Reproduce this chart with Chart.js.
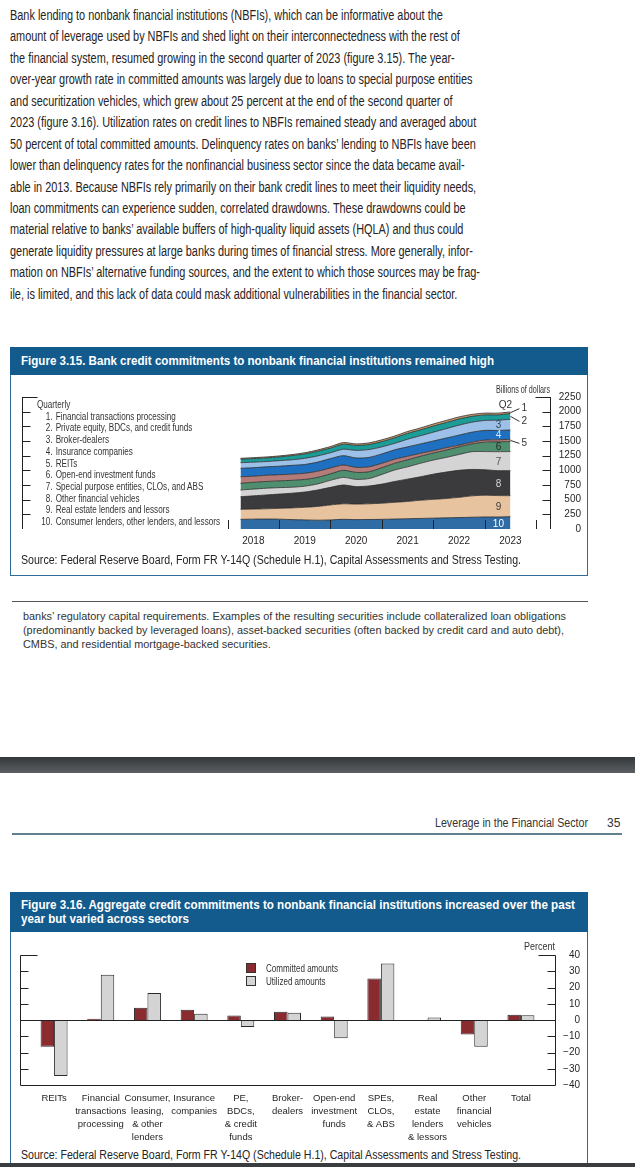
<!DOCTYPE html>
<html>
<head>
<meta charset="utf-8">
<script src="https://cdn.jsdelivr.net/npm/chart.js@4.4.1/dist/chart.umd.min.js"></script>
<style>
body{margin:0;width:635px;height:1167px;position:relative;overflow:hidden;background:#fff;
  font-family:'Liberation Sans',Arial,sans-serif;color:#262324}
.abs{position:absolute;white-space:nowrap;transform-origin:left top}
#para{left:10px;top:5px;font-size:14px;line-height:21.43px}
.figbar{position:absolute;left:10px;width:578px;background:#135b8d;color:#fff;font-weight:bold;
  font-size:13px;box-sizing:border-box;padding-left:11px;white-space:nowrap;overflow:hidden}
.figbar span{display:inline-block;transform-origin:left top}
.figbox{position:absolute;left:10px;width:578px;box-sizing:border-box;border:1px solid #2f6d98;border-top:none}
.src{font-size:12px;left:21px}
#legend315{left:37px;top:399px;font-size:10px;line-height:11.7px;color:#333}
#legend315 .n{display:inline-block;width:19px;text-align:right;margin-right:4px}
.sq{position:absolute;width:8px;height:8px;border:1px solid #333}
canvas{position:absolute}
</style>
</head>
<body>

<div id="para" class="abs">Bank lending to nonbank financial institutions (NBFIs), which can be informative about the<br>amount of leverage used by NBFIs and shed light on their interconnectedness with the rest of<br>the financial system, resumed growing in the second quarter of 2023 (figure 3.15). The year-<br>over-year growth rate in committed amounts was largely due to loans to special purpose entities<br>and securitization vehicles, which grew about 25 percent at the end of the second quarter of<br>2023 (figure 3.16). Utilization rates on credit lines to NBFIs remained steady and averaged about<br>50 percent of total committed amounts. Delinquency rates on banks’ lending to NBFIs have been<br>lower than delinquency rates for the nonfinancial business sector since the data became avail-<br>able in 2013. Because NBFIs rely primarily on their bank credit lines to meet their liquidity needs,<br>loan commitments can experience sudden, correlated drawdowns. These drawdowns could be<br>material relative to banks’ available buffers of high-quality liquid assets (HQLA) and thus could<br>generate liquidity pressures at large banks during times of financial stress. More generally, infor-<br>mation on NBFIs’ alternative funding sources, and the extent to which those sources may be frag-<br>ile, is limited, and this lack of data could mask additional vulnerabilities in the financial sector.</div>

<!-- Figure 3.15 -->
<div class="figbar" style="top:347px;height:28px;line-height:28px"><span id="title315">Figure 3.15. Bank credit commitments to nonbank financial institutions remained high</span></div>
<div class="figbox" style="top:375px;height:201px"></div>
<canvas id="fig315" width="578" height="180" style="left:10px;top:376px"></canvas>
<div id="billions" class="abs" style="left:496px;top:383px;font-size:10.5px;color:#333">Billions of dollars</div>
<div id="legend315" class="abs">Quarterly<br><span class="n">1.</span>Financial transactions processing<br><span class="n">2.</span>Private equity, BDCs, and credit funds<br><span class="n">3.</span>Broker-dealers<br><span class="n">4.</span>Insurance companies<br><span class="n">5.</span>REITs<br><span class="n">6.</span>Open-end investment funds<br><span class="n">7.</span>Special purpose entities, CLOs, and ABS<br><span class="n">8.</span>Other financial vehicles<br><span class="n">9.</span>Real estate lenders and lessors<br><span class="n">10.</span>Consumer lenders, other lenders, and lessors</div>
<div id="src315" class="abs src" style="top:553px">Source: Federal Reserve Board, Form FR Y-14Q (Schedule H.1), Capital Assessments and Stress Testing.</div>

<!-- footnote -->
<div class="abs" style="left:12px;top:601px;width:576px;height:1px;background:#555"></div>
<div id="foot" class="abs" style="left:23px;top:610px;font-size:11.5px;line-height:13.8px;color:#333">banks’ regulatory capital requirements. Examples of the resulting securities include collateralized loan obligations<br>(predominantly backed by leveraged loans), asset-backed securities (often backed by credit card and auto debt),<br>CMBS, and residential mortgage-backed securities.</div>

<!-- page break -->
<div class="abs" style="left:0;top:757px;width:635px;height:16px;background:linear-gradient(#34373a,#5c6064)"></div>

<div id="running" class="abs" style="left:435px;top:816px;font-size:12px;color:#333">Leverage in the Financial Sector</div>
<div class="abs" style="left:607px;top:816px;font-size:12px;color:#333">35</div>
<div class="abs" style="left:12px;top:833px;width:610px;height:2px;background:#5f8190"></div>

<!-- Figure 3.16 -->
<div class="figbar" style="top:892px;height:40px;line-height:14px;padding-top:6px"><span id="title316">Figure 3.16. Aggregate credit commitments to nonbank financial institutions increased over the past<br>year but varied across sectors</span></div>
<div class="figbox" style="top:932px;height:240px"></div>
<canvas id="fig316" width="578" height="216" style="left:10px;top:932px"></canvas>
<div id="percent" class="abs" style="left:524px;top:940px;font-size:10.5px;color:#333">Percent</div>
<div class="sq" style="left:246px;top:963px;background:#8a2b30"></div>
<div class="sq" style="left:246px;top:976px;background:#d4d4d4"></div>
<div id="legend316" class="abs" style="left:266px;top:962px;font-size:10px;line-height:13px;color:#333">Committed amounts<br>Utilized amounts</div>
<div id="src316" class="abs src" style="top:1148px">Source: Federal Reserve Board, Form FR Y-14Q (Schedule H.1), Capital Assessments and Stress Testing.</div>
<div class="abs" style="left:0;top:1163px;width:635px;height:4px;background:#3a3d40"></div>

<script>
// ---------- Figure 3.15 data (billions of dollars, quarterly) ----------
const quarters = ['2018Q1','2018Q2','2018Q3','2018Q4','2019Q1','2019Q2','2019Q3','2019Q4',
  '2020Q1','2020Q2','2020Q3','2020Q4','2021Q1','2021Q2','2021Q3','2021Q4',
  '2022Q1','2022Q2','2022Q3','2022Q4','2023Q1','2023Q2'];
const consumerLenders = [165,168,170,168,160,155,150,155,165,160,162,165,170,175,180,185,190,195,200,205,205,210];
const realEstateLenders = [170,172,175,184,200,215,235,255,265,265,268,275,285,295,310,320,330,345,365,370,365,358];
const otherVehicles = [215,225,235,243,250,260,280,300,320,297,303,325,355,380,400,430,450,460,450,435,425,427];
const speClosAbs = [115,115,115,110,102,100,103,120,130,123,127,165,196,210,230,240,250,270,303,310,323,325];
const openEndFunds = [115,115,115,115,118,115,112,110,120,120,115,115,114,120,120,120,125,130,132,160,167,170];
const reits = [110,105,105,105,105,105,105,100,90,85,85,75,70,60,50,40,40,30,30,35,35,40];
const insurance = [145,145,145,145,150,150,155,160,160,160,160,160,160,160,160,165,165,170,170,165,160,158];
const brokerDealers = [95,95,90,95,95,105,105,100,110,130,135,120,110,130,140,150,160,170,170,170,175,182];
const privateEquity = [60,60,62,63,70,75,80,80,85,85,85,90,95,100,100,105,105,105,100,95,90,100];
const finTransactions = [15,16,16,17,18,20,22,25,28,25,28,30,30,32,32,35,35,35,33,30,30,25];
const yearLabels = [2018, 2019, 2020, 2021, 2022, 2023, 2024];
const billionTicks = [0,250,500,750,1000,1250,1500,1750,2000,2250];

// ---------- Figure 3.16 data (percent change) ----------
const sectors = [['REITs'], ['Financial','transactions','processing'], ['Consumer,','leasing,','& other','lenders'],
  ['Insurance','companies'], ['PE,','BDCs,','& credit','funds'], ['Broker-','dealers'], ['Open-end','investment','funds'],
  ['SPEs,','CLOs,','& ABS'], ['Real','estate','lenders','& lessors'], ['Other','financial','vehicles'], ['Total']];
const committed = [-16.5, 0.8, 7.5, 6.3, 2.8, 5.1, 2.2, 25.6, -0.6, -8.9, 3.3];
const utilized = [-34.5, 27.9, 16.6, 3.9, -4.3, 4.5, -11.2, 34.8, 1.6, -16.5, 3.0];
const percentTicks = [-40,-30,-20,-10,0,10,20,30,40];

const FONT = "'Liberation Sans', Arial, sans-serif";

// squeeze the html text to the widths measured on the page
function fitWidth(id, target) {
    const el = document.getElementById(id);
    const w = el.getBoundingClientRect().width;
    el.style.transformOrigin = 'left top';
    el.style.transform = 'scaleX(' + (target / w) + ')';
}
fitWidth('para', 470);
fitWidth('title315', 473);
fitWidth('title316', 554);
fitWidth('legend315', 183);
fitWidth('src315', 500);
fitWidth('src316', 500);
fitWidth('foot', 543);
fitWidth('running', 153);
fitWidth('billions', 54);
fitWidth('percent', 31);
fitWidth('legend316', 72);

function quarterPos(q) {
    // end of quarter, as a decimal year
    return parseInt(q.slice(0, 4)) + parseInt(q.slice(5)) / 4;
}

// layers bottom to top
const layers = [
    { n: '10', data: consumerLenders, color: '#2f6ca5', text: '#ffffff' },
    { n: '9', data: realEstateLenders, color: '#e7c39f', text: '#3a3a3a' },
    { n: '8', data: otherVehicles, color: '#3b3b3e', text: '#d8d8d8' },
    { n: '7', data: speClosAbs, color: '#d4d4d4', text: '#555555' },
    { n: '6', data: openEndFunds, color: '#4f8f6f', text: '#1e2a22' },
    { n: '5', data: reits, color: '#b47c78', text: null },
    { n: '4', data: insurance, color: '#1f70c0', text: '#cfe6ff' },
    { n: '3', data: brokerDealers, color: '#9dc0e8', text: '#33465c' },
    { n: '2', data: privateEquity, color: '#1b9c97', text: null },
    { n: '1', data: finTransactions, color: '#d39a6a', text: null }
];

const frame315 = {
    id: 'frame315',
    afterDatasetsDraw(chart) {
        const { ctx, chartArea: a, scales: { x, y } } = chart;
        ctx.save();
        ctx.strokeStyle = '#222';
        ctx.lineWidth = 1;
        ctx.beginPath();
        const L = a.left + 0.5, R = Math.round(a.right) + 0.5;
        ctx.moveTo(L, y.getPixelForValue(2250)); ctx.lineTo(L, a.bottom);
        ctx.moveTo(R, y.getPixelForValue(2250)); ctx.lineTo(R, a.bottom);
        billionTicks.forEach(v => {
            if (v === 0) return;
            const py = Math.round(y.getPixelForValue(v)) + 0.5;
            const len = v === 2250 ? 15 : 8;
            ctx.moveTo(L, py); ctx.lineTo(L + len, py);
            ctx.moveTo(R, py); ctx.lineTo(R - len, py);
        });
        yearLabels.forEach(v => {
            const px = Math.round(x.getPixelForValue(v)) + 0.5;
            ctx.moveTo(px, a.bottom); ctx.lineTo(px, a.bottom - 9);
        });
        ctx.stroke();

        // layer numbers at the last quarter
        ctx.font = '10px ' + FONT;
        ctx.textAlign = 'center';
        ctx.textBaseline = 'middle';
        const last = quarters.length - 1;
        let prevTop = y.getPixelForValue(0);
        const tops = [];
        chart.data.datasets.forEach((ds, i) => {
            const pt = chart.getDatasetMeta(i).data[last];
            tops.push({ top: pt.y, bottom: prevTop, x: pt.x });
            prevTop = pt.y;
        });
        layers.forEach((l, i) => {
            if (!l.text) return;
            const t = tops[i];
            ctx.fillStyle = l.text;
            ctx.fillText(l.n, t.x - 12, (t.top + t.bottom) / 2 + 1);
        });
        // callouts for thin layers
        ctx.fillStyle = '#333';
        ctx.strokeStyle = '#333';
        ctx.textAlign = 'left';
        const ex = tops[0].x;
        const callout = (i, dy, lab) => {
            const t = tops[i];
            const my = (t.top + t.bottom) / 2;
            ctx.beginPath();
            ctx.moveTo(ex, my); ctx.lineTo(ex + 9, my + dy);
            ctx.stroke();
            ctx.fillText(lab, ex + 11, my + dy);
        };
        callout(9, -4, '1');
        callout(8, 5, '2');
        callout(5, 3, '5');
        ctx.textAlign = 'center';
        ctx.fillText('Q2', ex - 5, tops[9].top - 7);
        ctx.restore();
    }
};

new Chart(document.getElementById('fig315'), {
    type: 'line',
    data: {
        datasets: layers.map((l, i) => ({
            label: l.n,
            data: l.data.map((v, k) => ({ x: quarterPos(quarters[k]), y: v })),
            backgroundColor: l.color,
            borderColor: '#2a2a2a',
            borderWidth: 0.8,
            pointRadius: 0,
            tension: 0.25,
            fill: i === 0 ? 'origin' : '-1'
        }))
    },
    options: {
        responsive: false,
        animation: false,
        devicePixelRatio: 1,
        layout: { padding: { left: 12, top: 21, right: 7, bottom: 0 } },
        plugins: { legend: { display: false }, tooltip: { enabled: false } },
        scales: {
            x: {
                type: 'linear',
                min: 2014,
                max: 2024.27,
                grid: { display: false, drawTicks: false },
                border: { display: false },
                afterBuildTicks: axis => { axis.ticks = yearLabels.slice(0, 6).map(v => ({ value: v + 0.5 })); },
                afterFit: axis => { axis.height = 27; },
                ticks: {
                    autoSkip: false,
                    maxRotation: 0,
                    padding: 6,
                    color: '#231f20',
                    font: { family: FONT, size: 10 },
                    callback: v => String(Math.floor(v))
                }
            },
            y: {
                position: 'right',
                stacked: true,
                min: 0,
                max: 2250,
                grid: { display: false, drawTicks: false },
                border: { display: false },
                afterBuildTicks: axis => { axis.ticks = billionTicks.map(v => ({ value: v })); },
                afterFit: axis => { axis.width = 31; },
                ticks: {
                    autoSkip: false,
                    padding: 8,
                    crossAlign: 'far',
                    color: '#231f20',
                    font: { family: FONT, size: 10 },
                    callback: v => String(v)
                }
            }
        }
    },
    plugins: [frame315]
});

// ---------- Figure 3.16 ----------
const frame316 = {
    id: 'frame316',
    afterDatasetsDraw(chart) {
        const { ctx, chartArea: a, scales: { y } } = chart;
        ctx.save();
        ctx.strokeStyle = '#222';
        ctx.lineWidth = 1;
        ctx.beginPath();
        const L = Math.round(a.left) + 0.5, R = Math.round(a.right) + 0.5;
        const T = Math.round(y.getPixelForValue(40)) + 0.5, B = Math.round(y.getPixelForValue(-40)) + 0.5;
        ctx.moveTo(L, T); ctx.lineTo(L, B); ctx.lineTo(R, B); ctx.lineTo(R, T);
        const z = Math.round(y.getPixelForValue(0)) + 0.5;
        ctx.moveTo(L, z); ctx.lineTo(R, z);
        percentTicks.forEach(v => {
            if (v === -40 || v === 0) return;
            const py = Math.round(y.getPixelForValue(v)) + 0.5;
            const len = v === 40 ? 17 : 8;
            ctx.moveTo(L, py); ctx.lineTo(L + len, py);
            ctx.moveTo(R, py); ctx.lineTo(R - len, py);
        });
        ctx.stroke();
        ctx.restore();
    }
};

new Chart(document.getElementById('fig316'), {
    type: 'bar',
    data: {
        datasets: [
            {
                label: 'Committed amounts',
                data: committed.map((v, i) => ({ x: i, y: v })),
                backgroundColor: '#8a2b30',
                borderColor: '#2a2a2a',
                borderWidth: 1
            },
            {
                label: 'Utilized amounts',
                data: utilized.map((v, i) => ({ x: i, y: v })),
                backgroundColor: '#d4d4d4',
                borderColor: '#2a2a2a',
                borderWidth: 1
            }
        ]
    },
    options: {
        responsive: false,
        animation: false,
        devicePixelRatio: 1,
        categoryPercentage: 0.578,
        barPercentage: 1,
        layout: { padding: { left: 10, top: 23, right: 8, bottom: 0 } },
        plugins: { legend: { display: false }, tooltip: { enabled: false } },
        scales: {
            x: {
                type: 'linear',
                offset: false,
                min: -0.73,
                max: sectors.length - 1 + 0.73,
                grid: { display: false, drawTicks: false, offset: false },
                border: { display: false },
                afterBuildTicks: axis => { axis.ticks = sectors.map((s, i) => ({ value: i })); },
                afterFit: axis => { axis.height = 63; },
                ticks: {
                    autoSkip: false,
                    maxRotation: 0,
                    padding: 6.5,
                    color: '#231f20',
                    font: { family: FONT, size: 9.5, lineHeight: 1.37 },
                    callback: v => sectors[v]
                }
            },
            y: {
                position: 'right',
                min: -40,
                max: 40,
                grid: { display: false, drawTicks: false },
                border: { display: false },
                afterBuildTicks: axis => { axis.ticks = percentTicks.map(v => ({ value: v })); },
                afterFit: axis => { axis.width = 25; },
                ticks: {
                    autoSkip: false,
                    padding: 8,
                    crossAlign: 'far',
                    color: '#231f20',
                    font: { family: FONT, size: 10 },
                    callback: v => String(v).replace('-', '\u2212')
                }
            }
        }
    },
    plugins: [frame316]
});
</script>
</body>
</html>
